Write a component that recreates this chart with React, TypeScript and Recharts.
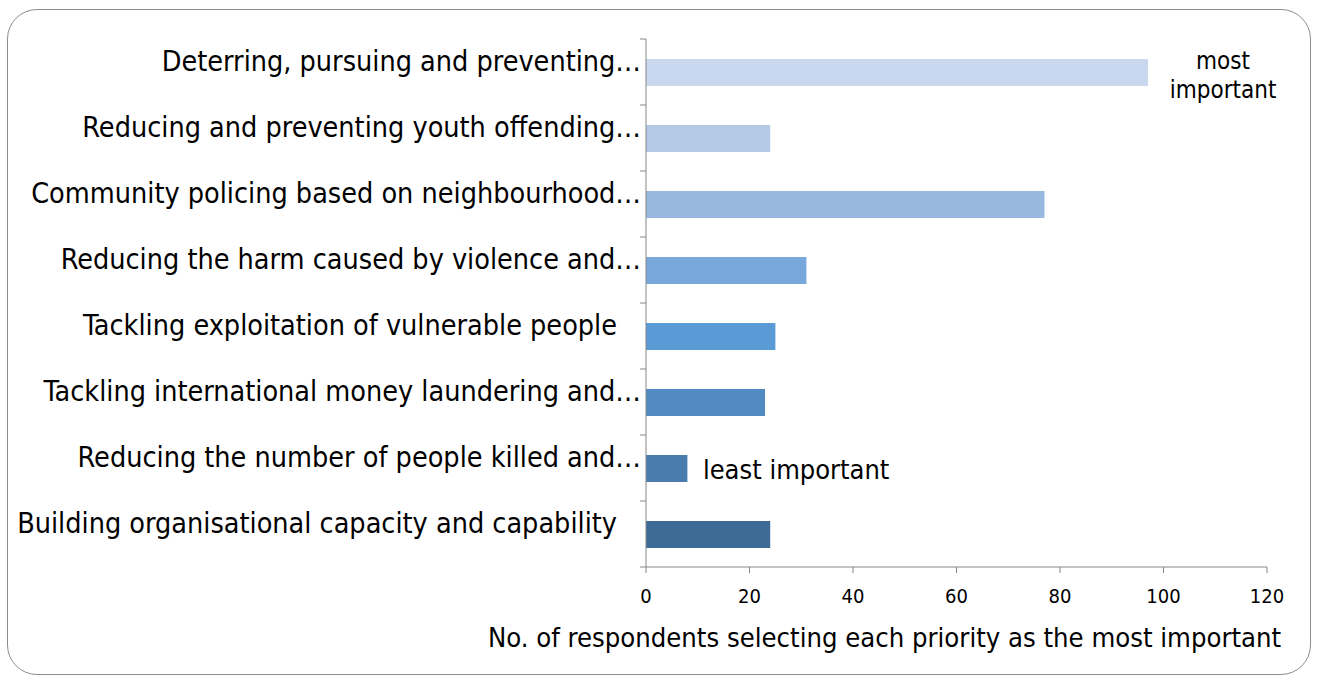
import React from 'react';
import { BarChart, Bar, XAxis, YAxis, Cell, ReferenceDot } from 'recharts';

const categories = [
  'Deterring, pursuing and preventing…',
  'Reducing and preventing youth offending…',
  'Community policing based on neighbourhood…',
  'Reducing the harm caused by violence and…',
  'Tackling exploitation of vulnerable people',
  'Tackling international money laundering and…',
  'Reducing the number of people killed and…',
  'Building organisational capacity and capability',
];
const respondents = [97, 24, 77, 31, 25, 23, 8, 24];
const barColors = ['#c9d8ee', '#b4c9e6', '#99b8df', '#78a8db', '#5b9bd5', '#528bc2', '#4a7dad', '#3e6a96'];
const xTicks = [0, 20, 40, 60, 80, 100, 120];
const axisTitle = 'No. of respondents selecting each priority as the most important';

const data = categories.map((name, i) => ({ name, value: respondents[i] }));

const FONT = "'DejaVu Sans Condensed', 'DejaVu Sans', sans-serif";
const AXIS = '#868686';
const BAND = 66;

const CategoryTick = (props: any) => {
  const { x, y, payload, index } = props;
  const label: string = payload.value;
  const truncated = label.endsWith('…');
  return (
    <g>
      <line x1={x - 6} x2={x} y1={y - BAND / 2} y2={y - BAND / 2} stroke={AXIS} />
      {index === categories.length - 1 && (
        <line x1={x - 6} x2={x} y1={y + BAND / 2} y2={y + BAND / 2} stroke={AXIS} />
      )}
      <text
        x={truncated ? x - 5 : x - 29}
        y={y - 11}
        dy="0.36em"
        textAnchor="end"
        fontSize={28.5}
        fontFamily={FONT}
        fill="#000"
      >
        {label}
      </text>
    </g>
  );
};

const AxisTitle = (props: any) => {
  const { viewBox } = props;
  return (
    <text
      x={viewBox.x + viewBox.width / 2 - 72}
      y={637}
      dy="0.36em"
      textAnchor="middle"
      fontSize={27.2}
      fontFamily={FONT}
      fill="#000"
    >
      {axisTitle}
    </text>
  );
};

const MostLabel = (props: any) => {
  const { viewBox } = props;
  const cx = viewBox.x + viewBox.width / 2;
  const cy = viewBox.y + viewBox.height / 2;
  return (
    <text textAnchor="middle" fontSize={24} fontFamily={FONT} fill="#000">
      <tspan x={cx} y={cy - 12} dy="0.36em">most</tspan>
      <tspan x={cx} y={cy + 17} dy="0.36em">important</tspan>
    </text>
  );
};

const LeastLabel = (props: any) => {
  const { viewBox } = props;
  const cx = viewBox.x + viewBox.width / 2;
  const cy = viewBox.y + viewBox.height / 2;
  return (
    <text x={cx} y={cy + 1} dy="0.36em" textAnchor="start" fontSize={27} fontFamily={FONT} fill="#000">
      least important
    </text>
  );
};

export default function App() {
  return (
    <div style={{ position: 'absolute', left: 0, top: 0, width: 1319, height: 682, background: '#fff' }}>
      <div
        style={{
          position: 'absolute',
          left: 7,
          top: 9,
          width: 1304,
          height: 666,
          border: '1.5px solid #8c8c8c',
          borderRadius: 30,
          boxSizing: 'border-box',
        }}
      />
      <div style={{ position: 'absolute', left: 0, top: 0 }}>
        <BarChart
          width={1319}
          height={682}
          data={data}
          layout="vertical"
          margin={{ top: 39, right: 52, bottom: 35, left: 0 }}
          barSize={27}
        >
          <XAxis
            type="number"
            domain={[0, 120]}
            ticks={xTicks}
            interval={0}
            axisLine={{ stroke: AXIS }}
            tickLine={{ stroke: AXIS }}
            tickSize={6}
            tickMargin={16}
            tick={{ fontSize: 20, fontFamily: FONT, fill: '#000' }}
            height={80}
            label={<AxisTitle />}
          />
          <YAxis
            type="category"
            dataKey="name"
            width={646}
            axisLine={{ stroke: AXIS }}
            tickLine={false}
            tickSize={0}
            tickMargin={0}
            interval={0}
            tick={<CategoryTick />}
          />
          <Bar dataKey="value" isAnimationActive={false}>
            {data.map((d, i) => (
              <Cell key={d.name} fill={barColors[i]} />
            ))}
          </Bar>
          <ReferenceDot x={111.5} y={categories[0]} r={0} fill="none" stroke="none" label={<MostLabel />} />
          <ReferenceDot x={11} y={categories[6]} r={0} fill="none" stroke="none" label={<LeastLabel />} />
        </BarChart>
      </div>
    </div>
  );
}
